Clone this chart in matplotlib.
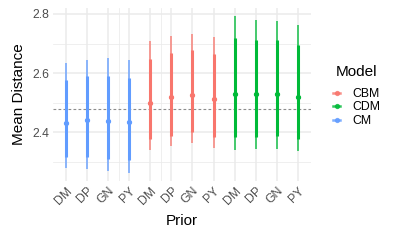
import numpy as np
import matplotlib; matplotlib.use("Agg"); import matplotlib.pyplot as plt

plt.rcParams["font.family"] = ["Liberation Sans", "DejaVu Sans"]

priors = ["DM", "DP", "GN", "PY"]
models = ["CM", "CBM", "CDM"]            # order along the x axis
legend_order = ["CBM", "CDM", "CM"]
colors = {"CBM": "#F8766D", "CDM": "#00BA38", "CM": "#619CFF"}

# per model, in prior order: point estimate, inner interval, outer interval
mean = {"CM":  [2.432, 2.440, 2.437, 2.433],
        "CBM": [2.498, 2.518, 2.525, 2.512],
        "CDM": [2.530, 2.528, 2.530, 2.518]}
inner_lo = {"CM":  [2.314, 2.314, 2.307, 2.304],
            "CBM": [2.375, 2.388, 2.399, 2.384],
            "CDM": [2.382, 2.384, 2.386, 2.377]}
inner_hi = {"CM":  [2.577, 2.590, 2.590, 2.584],
            "CBM": [2.647, 2.669, 2.678, 2.665],
            "CDM": [2.720, 2.711, 2.711, 2.695]}
outer_lo = {"CM":  [2.277, 2.275, 2.267, 2.262],
            "CBM": [2.340, 2.353, 2.362, 2.347],
            "CDM": [2.339, 2.343, 2.343, 2.337]}
outer_hi = {"CM":  [2.635, 2.644, 2.650, 2.643],
            "CBM": [2.707, 2.727, 2.732, 2.722],
            "CDM": [2.794, 2.780, 2.776, 2.764]}
ref_line = 2.479

fig = plt.figure(figsize=(4, 2.4), dpi=100)
ax = fig.add_axes([0.1325, 0.247, 0.6445, 0.7205])

grid = "#EBEBEB"
for y in [2.4, 2.6, 2.8]:
    ax.axhline(y, color=grid, lw=1.1, zorder=0)
for y in [2.3, 2.5, 2.7]:
    ax.axhline(y, color=grid, lw=0.55, zorder=0)
for x in range(1, 13):
    ax.axvline(x, color=grid, lw=1.1, zorder=0)
for x in [3.5, 5.5]:
    ax.axvline(x, color=grid, lw=0.55, zorder=0)

ax.axhline(ref_line, color="#8C8C8C", lw=0.8, ls=(0, (2.5, 2)), zorder=1)

labels = []
pos = 1
for m in models:
    c = colors[m]
    xs = np.arange(pos, pos + len(priors))
    ax.vlines(xs, outer_lo[m], outer_hi[m], color=c, lw=1.1, alpha=0.9, zorder=2)
    ax.vlines(xs, inner_lo[m], inner_hi[m], color=c, lw=2.2, zorder=3)
    ax.plot(xs, mean[m], "o", color=c, ms=2.8, zorder=4)
    labels += priors
    pos += len(priors)

ax.set_xlim(0.4, 12.6)
ax.set_ylim(2.235, 2.821)
ax.set_xticks(range(1, 13))
ax.set_xticklabels(labels, rotation=45, ha="right", va="top",
                   rotation_mode="anchor", fontsize=8.8, color="#4D4D4D")
ax.set_yticks([2.4, 2.6, 2.8])
ax.set_yticklabels(["2.4", "2.6", "2.8"], fontsize=8.8, color="#4D4D4D")
ax.tick_params(length=0, pad=3)
for s in ax.spines.values():
    s.set_visible(False)
ax.set_xlabel("Prior", fontsize=11, labelpad=5)
ax.set_ylabel("Mean Distance", fontsize=11, labelpad=4)

# legend title placed on its own, entries below
fig.text(336 / 400, 1 - 72 / 240, "Model", fontsize=11, ha="left", va="center")
handles = [plt.Line2D([], [], color=colors[m], lw=1.8, alpha=0.8, marker="o", ms=2.8)
           for m in legend_order]
leg = fig.legend(handles, legend_order, loc="upper left",
                 bbox_to_anchor=(333 / 400, 1 - 88 / 240), frameon=False, fontsize=8.8,
                 handlelength=0.6, handletextpad=1.0, labelspacing=0.12,
                 borderpad=0, borderaxespad=0)

fig.savefig("out.png", dpi=100)
